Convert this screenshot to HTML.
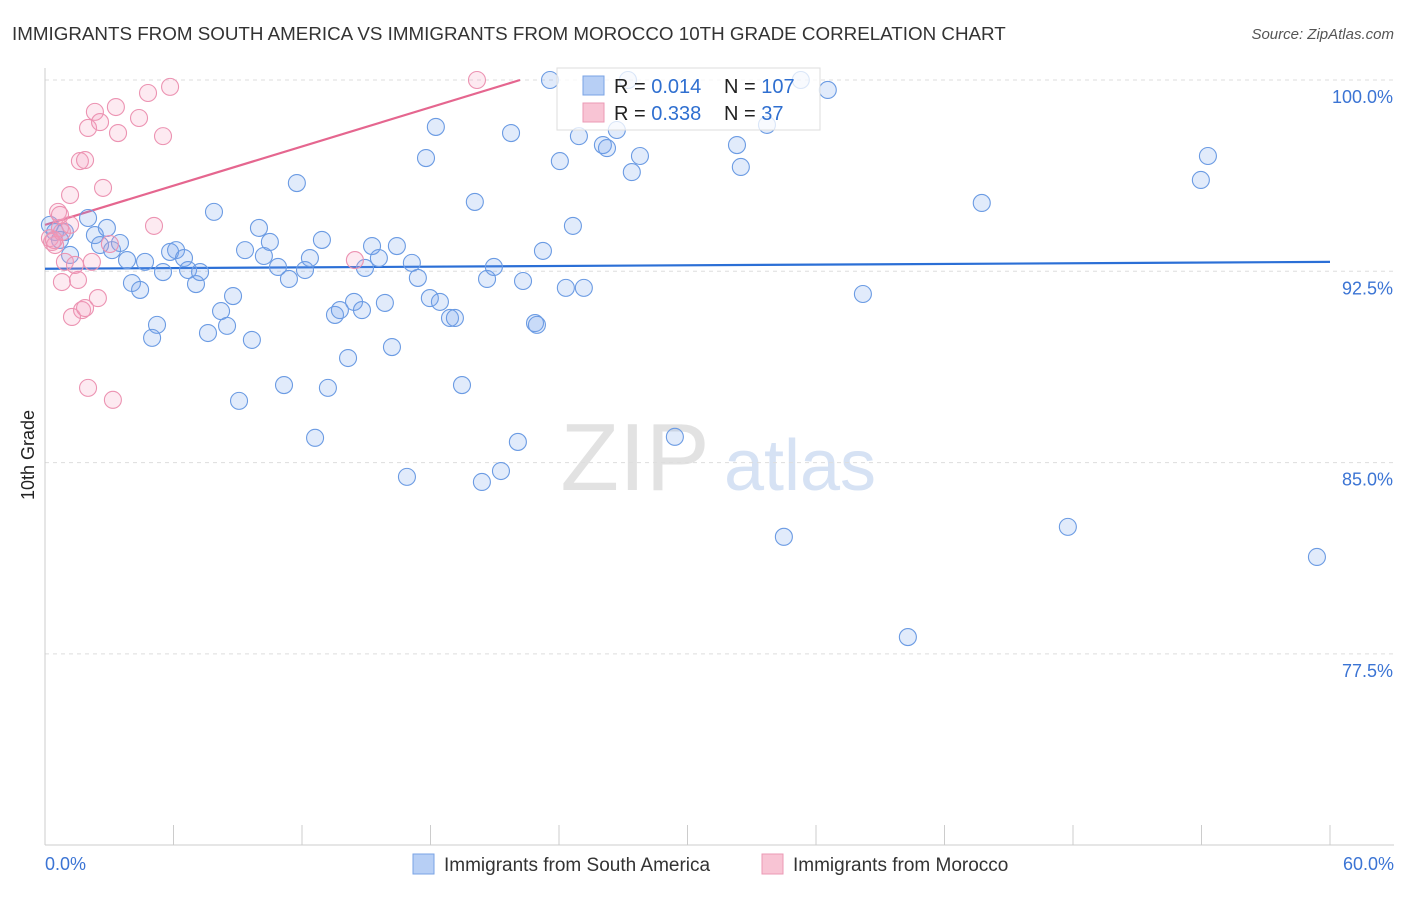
<!DOCTYPE html>
<html><head><meta charset="utf-8"><style>
body{margin:0;background:#fff;font-family:"Liberation Sans",sans-serif;}
svg text{font-family:"Liberation Sans",sans-serif;}
</style></head><body>
<svg id="chart" width="1406" height="892" xmlns="http://www.w3.org/2000/svg">
<text x="12" y="40" font-size="18.8" fill="#333">IMMIGRANTS FROM SOUTH AMERICA VS IMMIGRANTS FROM MOROCCO 10TH GRADE CORRELATION CHART</text>
<text x="1394" y="39" font-size="15" fill="#555" text-anchor="end" font-style="italic">Source: ZipAtlas.com</text>
<text x="34" y="455" font-size="18" fill="#222" text-anchor="middle" transform="rotate(-90 34 455)">10th Grade</text>
<g><text x="635" y="490" font-size="96" fill="#e2e2e2" font-family="Liberation Serif" text-anchor="middle">ZIP</text><text x="800" y="490" font-size="72" fill="#d6e2f4" text-anchor="middle">atlas</text></g>
<g id="grid"></g><g id="axes"></g><g id="trend"></g><g id="pts"></g>
<g>
<rect x="557" y="68" width="263" height="62" fill="#fff" fill-opacity="0.75" stroke="#ddd"/>
<rect x="583" y="76" width="21" height="19" fill="#b7cff5" stroke="#7aa3e5"/>
<rect x="583" y="103" width="21" height="19" fill="#f8c4d4" stroke="#eb9ab5"/>
<text x="614" y="93" font-size="20" fill="#222">R = <tspan fill="#2f6fd0">0.014</tspan></text>
<text x="724" y="93" font-size="20" fill="#222">N = <tspan fill="#2f6fd0">107</tspan></text>
<text x="614" y="120" font-size="20" fill="#222">R = <tspan fill="#2f6fd0">0.338</tspan></text>
<text x="724" y="120" font-size="20" fill="#222">N = <tspan fill="#2f6fd0">  37</tspan></text>
</g>
<g>
<rect x="413" y="854" width="21" height="20" fill="#b7cff5" stroke="#7aa3e5"/>
<text x="444" y="871" font-size="19" fill="#333">Immigrants from South America</text>
<rect x="762" y="854" width="21" height="20" fill="#f8c4d4" stroke="#eb9ab5"/>
<text x="793" y="871" font-size="19" fill="#333">Immigrants from Morocco</text>
</g>
</svg>
<script>
const yTicks=[100,92.5,85,77.5];
const yTickLabels=["100.0%","92.5%","85.0%","77.5%"];
const xTickLabels=["0.0%","60.0%"];
const blueX=[0.23,0.47,0.70,0.93,1.17,2.01,2.33,2.57,2.89,3.13,3.50,3.83,4.06,4.44,4.67,5.23,5.00,5.51,5.84,6.12,6.49,6.68,7.05,7.24,7.61,7.89,8.22,8.50,8.78,9.06,9.34,9.66,9.99,10.22,10.50,10.88,11.16,11.39,11.76,12.14,12.37,12.61,12.93,13.21,13.54,13.77,14.15,14.43,14.80,14.94,15.27,15.59,15.87,16.20,16.43,16.90,17.13,17.41,17.79,17.97,18.25,18.44,18.91,19.14,19.47,20.07,20.40,20.64,20.96,21.29,21.76,22.08,22.32,22.88,22.97,23.25,23.58,24.04,24.32,24.65,24.93,25.16,26.05,26.24,26.70,27.22,27.40,27.78,29.41,32.31,32.49,33.71,34.50,35.29,36.55,38.19,40.29,43.74,47.76,53.97,54.30,59.39];
const blueY=[94.32,94.04,93.73,94.04,93.14,94.59,93.92,93.53,94.20,93.33,93.61,92.94,92.04,91.77,92.87,90.40,89.89,92.47,93.26,93.33,93.02,92.55,92.00,92.47,90.08,94.83,90.94,90.36,91.53,87.42,93.33,89.81,94.20,93.10,93.65,92.67,88.04,92.20,95.96,92.55,93.02,85.97,93.73,87.93,90.79,90.98,89.10,91.30,90.98,92.63,93.49,93.02,91.26,89.53,93.49,84.44,92.83,92.24,96.94,91.45,98.16,91.30,90.67,90.67,88.04,95.22,84.24,92.20,92.67,84.67,97.92,85.81,92.12,90.47,90.40,93.30,100.0,96.82,91.85,94.28,97.80,91.85,97.45,97.33,98.04,100.0,96.39,97.02,86.01,97.45,96.59,98.24,82.09,100.0,99.61,91.61,78.16,95.18,82.48,96.08,97.02,81.30];
const pinkX=[0.23,0.33,0.47,0.61,0.70,0.79,0.93,0.79,1.17,1.26,1.54,1.63,1.87,1.73,1.87,2.01,2.01,2.33,2.47,2.57,2.71,3.03,3.17,3.31,3.41,4.39,4.81,5.09,5.51,5.84,14.47,20.17,1.17,1.40,2.19,0.70,0.42];
const pinkY=[93.80,93.65,93.53,94.83,94.20,94.04,92.87,92.08,94.32,90.71,92.16,96.82,96.86,90.98,91.06,98.12,87.93,98.75,91.45,98.35,95.77,93.57,87.46,98.94,97.92,98.51,99.49,94.28,97.80,99.73,92.94,100.0,95.49,92.75,92.87,94.71,93.73];
const blueTrend=[92.6,92.87];
const pinkTrend=[94.32,100.0];
const pinkTrendEndX=22.18;
const NS="http://www.w3.org/2000/svg";
const X=v=>45+v*1285/60;
const Y=v=>80+(100-v)*191.3/7.5;
function mk(tag,parent,attrs){const e=document.createElementNS(NS,tag);for(const k in attrs)e.setAttribute(k,attrs[k]);document.getElementById(parent).appendChild(e);return e;}
yTicks.forEach((t,i)=>{
  const l=mk('line','grid',{x1:45,x2:1394,y1:Y(t),y2:Y(t),stroke:'#ddd','stroke-dasharray':'4,4'});
  
  
  const tx=mk('text','axes',{x:1393,y:Y(t)+23,'font-size':18,fill:'#3b74d4','text-anchor':'end'});
  tx.textContent=yTickLabels[i];
  
  
});
const ya=mk('line','axes',{x1:45,x2:45,y1:68,y2:845,stroke:'#ccc'});


const xa=mk('line','axes',{x1:45,x2:1394,y1:845,y2:845,stroke:'#ccc'});


for(let i=0;i<=10;i++){const t=mk('line','axes',{x1:X(i*6),x2:X(i*6),y1:825,y2:845,stroke:'#ccc'});

}
[[0,'start',45],[60,'end',1394]].forEach((d,i)=>{const t=mk('text','axes',{x:d[2],y:870,'font-size':18,fill:'#3b74d4','text-anchor':d[1]});t.textContent=xTickLabels[i];

});
function pts(xs,ys,fill,stroke,name){xs.forEach((x,i)=>{const c=mk('circle','pts',{cx:X(x),cy:Y(ys[i]),r:8.5,fill:fill,stroke:stroke,'stroke-width':1.1});

});}
pts(blueX,blueY,'rgba(120,165,235,0.22)','#6b9be3','point-south-america');
pts(pinkX,pinkY,'rgba(245,160,190,0.22)','#ec93b2','point-morocco');
const bl=mk('line','trend',{x1:X(0),y1:Y(blueTrend[0]),x2:X(60),y2:Y(blueTrend[1]),stroke:'#2b6fd6','stroke-width':2.2});


const pl=mk('line','trend',{x1:X(0),y1:Y(pinkTrend[0]),x2:X(pinkTrendEndX),y2:Y(pinkTrend[1]),stroke:'#e5668f','stroke-width':2.2});


</script>
</body></html>
